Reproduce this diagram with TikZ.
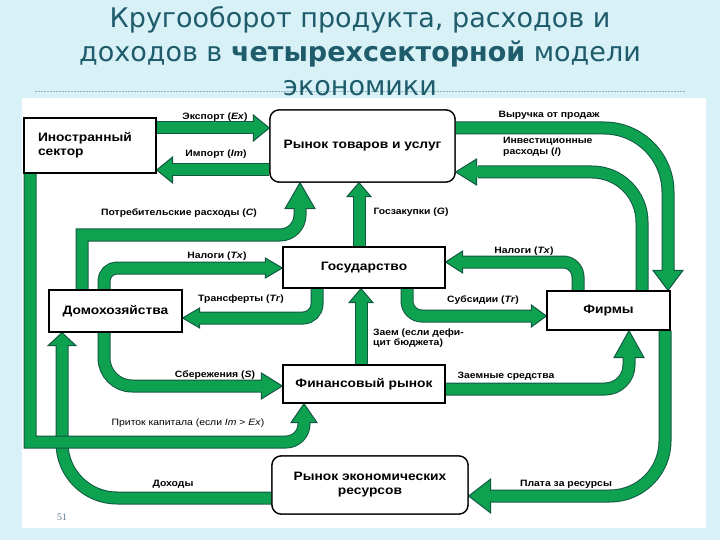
\documentclass[tikz,border=0pt]{standalone}
\usepackage{fontspec}
\setmainfont[FakeStretch=1.13]{Liberation Sans}
\newfontfamily\titlefont{DejaVu Sans}
\newfontfamily\pnfont{Liberation Serif}
\usetikzlibrary{calc}
\definecolor{bgc}{RGB}{216,241,247}
\definecolor{ttl}{RGB}{30,92,108}
\definecolor{gfill}{RGB}{14,162,80}
\definecolor{gedge}{RGB}{16,88,66}
\definecolor{dashc}{RGB}{140,175,190}
\definecolor{pnc}{RGB}{90,125,140}
\newcommand\hE[3]{\filldraw[hd] #1 -- ++(-#2,-#3) -- ++(0,{2*#3}) -- cycle;}
\newcommand\hW[3]{\filldraw[hd] #1 -- ++(#2,-#3) -- ++(0,{2*#3}) -- cycle;}
\newcommand\hN[3]{\filldraw[hd] #1 -- ++(-#3,#2) -- ++({2*#3},0) -- cycle;}
\newcommand\hS[3]{\filldraw[hd] #1 -- ++(-#3,-#2) -- ++({2*#3},0) -- cycle;}
\newcommand\garrow[3][]{\draw[bo,#1] #2; #3 \draw[bi,#1] #2;}
\begin{document}
\begin{tikzpicture}[x=1pt,y=-1pt,
  box/.style={draw=black, line width=1.3pt, fill=white, font=\fontsize{12.2}{14}\selectfont\bfseries, inner sep=0pt},
  lbl/.style={font=\fontsize{9.2}{10.5}\selectfont\bfseries, inner sep=0pt},
  lblr/.style={font=\fontsize{9.2}{10.5}\selectfont, inner sep=0pt},
  ttlst/.style={font=\titlefont\fontsize{27}{32}\selectfont, text=ttl, inner sep=0pt, anchor=base},
  bo/.style={draw=gedge, line width=13pt},
  bi/.style={draw=gfill, line width=11pt, shorten >=-2pt},
  hd/.style={fill=gfill, draw=gedge, line width=1pt, line join=miter}
]
\fill[bgc] (0,0) rectangle (720,540);
\useasboundingbox (0,0) rectangle (720,540);
\fill[white] (22,98) rectangle (706,528);
\draw[dashc, line width=0.6pt, dash pattern=on 2pt off 1pt] (35,91) -- (685,91);

\node[ttlst] (t1) at (360,28) {Кругооборот продукта, расходов и};
\node[ttlst] (t2) at (360,62) {доходов в \textbf{четырехсекторной} модели};
\node[ttlst] (t3) at (360,96) {экономики};

% box centres
\path (90,145.5) coordinate (cfs) (362.5,146) coordinate (cgm) (364,267.5) coordinate (cgov)
      (115.5,311) coordinate (chh) (608.5,310.5) coordinate (cfi) (364,384) coordinate (cfm)
      (370,485) coordinate (crm);
\path
  (cfs) node[box, minimum width=132, minimum height=55, text width=104, inner xsep=14, align=left] (fs) {Иностранный\\сектор}
  (cgm) node[box, minimum width=185, minimum height=72, rounded corners=9] (gm) {Рынок товаров и услуг}
  (cgov) node[box, minimum width=162, minimum height=41] (gov) {Государство}
  (chh) node[box, minimum width=133, minimum height=42] (hh) {Домохозяйства}
  (cfi) node[box, minimum width=123, minimum height=39] (fi) {Фирмы}
  (cfm) node[box, minimum width=162, minimum height=38] (fm) {Финансовый рынок}
  (crm) node[box, minimum width=196, minimum height=58, rounded corners=9, align=center] (rm) {Рынок экономических\\ресурсов};

% arrows
\garrow{(fs.east |- 0,128) -- (254,128)}{\hE{(gm.west |- 0,128)}{16}{13}}
\garrow{(gm.west |- 0,170) -- (172,170)}{\hW{(fs.east |- 0,170)}{16}{13}}
\garrow[rounded corners=64]{(gm.east |- 0,128) -- (668,128) -- (668,272)}{\hS{(fi.north -| 668,0)}{20}{15}}
\garrow[rounded corners=50]{(fi.north -| 642,0) -- (642,172) -- (478,172)}{\hW{(gm.east |- 0,172)}{21}{13}}
\garrow[rounded corners=15]{(fi.north -| 578,0) -- (578,262) -- (462,262)}{\hW{(gov.east |- 0,262)}{17}{11}}
\garrow[rounded corners=15]{(gov.south -| 407,0) -- (407,316) -- (532,316)}{\hE{(fi.west |- 0,316)}{15}{11}}
\garrow{(gov.north -| 359,0) -- (359,196)}{\hN{(gm.south -| 359,0)}{14}{12}}
\garrow{(hh.north -| 82,0) [sharp corners] -- (82,235) [rounded corners=20] -- (300,235) -- (300,208)}{\hN{(gm.south -| 300,0)}{26}{15}}
\garrow[rounded corners=13]{(hh.north -| 104,0) -- (104,268) -- (266,268)}{\hE{(gov.west |- 0,268)}{17}{10}}
\garrow[rounded corners=14]{(gov.south -| 317,0) -- (317,318) -- (200,318)}{\hW{(hh.east |- 0,318)}{17}{10}}
\garrow[rounded corners=28]{(hh.south -| 104,0) -- (104,386) -- (262,386)}{\hE{(fm.west |- 0,386)}{21}{13}}
\garrow[rounded corners=24]{(fm.east |- 0,389) -- (629,389) -- (629,358)}{\hN{(fi.south -| 629,0)}{27}{15}}
\garrow{(fm.north -| 361,0) -- (361,302)}{\hN{(gov.south -| 361,0)}{14}{12}}
\garrow[rounded corners=55]{(rm.west |- 0,498) -- (62,498) -- (62,345)}{\hN{(hh.south -| 62,0)}{13}{14}}
\garrow{(fs.south -| 30,0) [sharp corners] -- (30,442) [rounded corners=18] -- (304,442) -- (304,422)}{\hN{(fm.south -| 304,0)}{19}{13}}
\garrow[rounded corners=55]{(fi.south -| 665,0) -- (665,496) -- (490,496)}{\hW{(rm.east |- 0,496)}{22}{17}}

% boxes again, on top of the band ends
\path
  (cfs) node[box, minimum width=132, minimum height=55, text width=104, inner xsep=14, align=left] {Иностранный\\сектор}
  (cgm) node[box, minimum width=185, minimum height=72, rounded corners=9] {Рынок товаров и услуг}
  (cgov) node[box, minimum width=162, minimum height=41] {Государство}
  (chh) node[box, minimum width=133, minimum height=42] {Домохозяйства}
  (cfi) node[box, minimum width=123, minimum height=39] {Фирмы}
  (cfm) node[box, minimum width=162, minimum height=38] {Финансовый рынок}
  (crm) node[box, minimum width=196, minimum height=58, rounded corners=9, align=center] {Рынок экономических\\ресурсов};

% labels
\node[lbl] (lEx) at (215,117) {Экспорт (\textit{Ex})};
\node[lbl] (lIm) at (216,154) {Импорт (\textit{Im})};
\node[lbl] (lRev) at (549,115) {Выручка от продаж};
\node[lbl, align=left, anchor=west] (lInv) at (503,147) {Инвестиционные\\расходы (\textit{I})};
\node[lbl] (lC) at (179,213) {Потребительские расходы (\textit{C})};
\node[lbl] (lG) at (411,212) {Госзакупки (\textit{G})};
\node[lbl] (lTxF) at (524,251) {Налоги (\textit{Tx})};
\node[lbl] (lTxH) at (217,256) {Налоги (\textit{Tx})};
\node[lbl] (lTr) at (241,299) {Трансферты (\textit{Tr})};
\node[lbl] (lSub) at (483,300) {Субсидии (\textit{Tr})};
\node[lbl, align=left, anchor=west] (lLoan) at (373,338) {Заем (если дефи-\\цит бюджета)};
\node[lbl] (lS) at (215,375) {Сбережения (\textit{S})};
\node[lbl] (lZ) at (506,376) {Заемные средства};
\node[lblr] (lK) at (188,423) {Приток капитала (если \textit{Im} > \textit{Ex})};
\node[lbl] (lInc) at (173,484) {Доходы};
\node[lbl] (lPay) at (566,484) {Плата за ресурсы};
\node[font=\pnfont\fontsize{10}{12}\selectfont, text=pnc, inner sep=0pt] (pn) at (62,517) {51};
\end{tikzpicture}
\end{document}
